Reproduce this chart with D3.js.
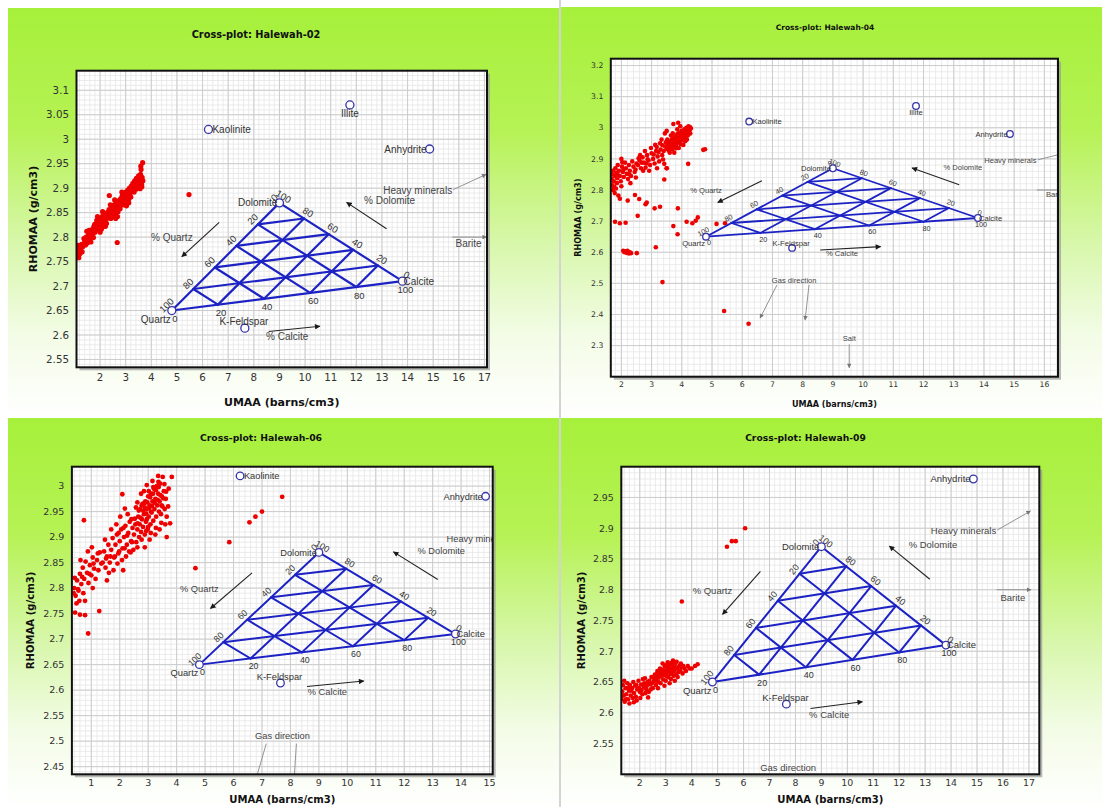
<!DOCTYPE html>
<html>
<head>
<meta charset="utf-8">
<style>
  body { margin: 0; background: #fff; }
  svg { display: block; }
</style>
<title>Cross-plots Halewah</title>
</head>
<body>
<script src="https://cdn.jsdelivr.net/npm/d3@7"></script>
<script>

// ---------- DATA ----------
var wells = ["Halewah-02", "Halewah-04", "Halewah-06", "Halewah-09"];

// ternary end members (Quartz, Calcite, Dolomite)
var triNames = ["Quartz", "Calcite", "Dolomite"];
var triUmaa = [4.8, 13.8, 9.0];
var triRhomaa = [2.65, 2.71, 2.87];
var meshPct = [0, 20, 40, 60, 80, 100];

// other minerals
var mineralNames = ["Kaolinite", "Illite", "Anhydrite", "K-Feldspar"];
var mineralUmaa = [6.23, 11.75, 14.86, 7.65];
var mineralRhomaa = [3.02, 3.07, 2.98, 2.614];

// direction arrows [x1, y1, x2, y2]
var arrowText = ["% Quartz", "% Dolomite", "% Calcite"];
var arrowTextAt = [[4.8, 2.799], [13.3, 2.874], [9.3, 2.597]];
var arrowLines = [[6.65, 2.830, 5.19, 2.760], [13.18, 2.817, 11.62, 2.871], [8.58, 2.607, 10.58, 2.618]];

// pointers
var pointerText = ["Heavy minerals", "Barite", "Gas direction", "Salt"];
var pointerTextAt = [[15.74, 2.896], [16.38, 2.787], [7.72, 2.510], [9.54, 2.323]];
var pointerLines = [[15.78, 2.897, 17.06, 2.928], [15.75, 2.800, 17.08, 2.800],
                    [7.15, 2.495, 6.59, 2.388], [8.21, 2.495, 8.08, 2.382], [9.54, 2.304, 9.54, 2.229]];

// tick labels
var xTicks02 = [2,3,4,5,6,7,8,9,10,11,12,13,14,15,16,17];
var yTicks02 = [2.55,2.6,2.65,2.7,2.75,2.8,2.85,2.9,2.95,3,3.05,3.1];
var xTicks04 = [2,3,4,5,6,7,8,9,10,11,12,13,14,15,16];
var yTicks04 = [2.3,2.4,2.5,2.6,2.7,2.8,2.9,3,3.1,3.2];
var xTicks06 = [1,2,3,4,5,6,7,8,9,10,11,12,13,14,15];
var yTicks06 = [2.45,2.5,2.55,2.6,2.65,2.7,2.75,2.8,2.85,2.9,2.95,3];
var xTicks09 = [2,3,4,5,6,7,8,9,10,11,12,13,14,15,16,17];
var yTicks09 = [2.55,2.6,2.65,2.7,2.75,2.8,2.85,2.9,2.95];

// log samples [UMAA, RHOMAA]
var pts02 = [
  [1.10,2.768],[1.12,2.775],[1.15,2.762],[1.18,2.771],[1.20,2.780],[1.14,2.783],[1.22,2.766],[1.25,2.776],
  [1.28,2.785],[1.17,2.758],[1.30,2.770],[1.11,2.779],
  [1.40,2.792],[1.45,2.800],[1.50,2.788],[1.55,2.805],[1.58,2.796],[1.62,2.812],[1.66,2.800],[1.70,2.816],
  [1.72,2.806],[1.76,2.822],[1.80,2.810],[1.48,2.812],[1.64,2.790],
  [1.84,2.826],[1.88,2.815],[1.92,2.832],[1.95,2.820],[1.98,2.838],[2.02,2.826],[2.05,2.816],[2.08,2.842],
  [2.12,2.830],[2.15,2.822],[2.18,2.846],[2.22,2.835],[2.25,2.828],[2.28,2.850],[1.90,2.842],[2.00,2.810],[2.10,2.852],
  [2.32,2.840],[2.35,2.856],[2.38,2.846],[2.42,2.838],[2.45,2.862],[2.48,2.850],[2.52,2.843],[2.55,2.866],
  [2.58,2.855],[2.60,2.848],[2.63,2.870],[2.66,2.860],[2.70,2.852],[2.72,2.874],[2.75,2.864],[2.78,2.858],
  [2.40,2.866],[2.57,2.876],[2.68,2.842],
  [2.80,2.878],[2.83,2.868],[2.86,2.884],[2.88,2.874],[2.90,2.866],[2.92,2.888],[2.95,2.878],[2.98,2.870],
  [3.00,2.892],[3.02,2.882],[3.05,2.874],[3.08,2.896],[3.10,2.886],[3.12,2.878],[3.15,2.900],[3.18,2.890],
  [3.20,2.882],[2.85,2.892],[3.03,2.864],
  [3.22,2.904],[3.25,2.894],[3.28,2.910],[3.30,2.900],[3.33,2.892],[3.35,2.915],[3.38,2.905],[3.40,2.898],
  [3.42,2.920],[3.45,2.910],[3.48,2.902],[3.50,2.925],[3.52,2.914],[3.55,2.906],[3.57,2.918],[3.60,2.912],
  [3.62,2.908],[3.58,2.928],[3.60,2.938],[3.66,2.952],[3.63,2.903],
  [1.33,2.781],[1.37,2.797],[1.43,2.784],[1.52,2.797],[1.57,2.814],[1.61,2.801],[1.68,2.809],[1.74,2.799],
  [1.79,2.826],[1.83,2.817],[1.87,2.834],[1.93,2.824],[1.97,2.829],[2.03,2.837],[2.07,2.829],[2.13,2.840],
  [2.17,2.835],[2.23,2.844],[2.27,2.839],[2.33,2.849],[2.37,2.853],[2.43,2.849],[2.47,2.859],[2.53,2.856],
  [2.57,2.862],[2.62,2.859],[2.67,2.867],[2.73,2.866],[2.77,2.871],[2.82,2.873],[2.87,2.879],[2.93,2.882],
  [2.97,2.884],[3.04,2.889],[3.07,2.883],[3.13,2.893],[3.17,2.897],[3.23,2.899],[3.27,2.903],[3.32,2.908],
  [3.37,2.911],[3.43,2.905],[3.47,2.917],[3.53,2.921],[3.56,2.899],[3.64,2.922],[3.67,2.915],[3.59,2.945],
  [2.21,2.822],[2.61,2.838],[3.12,2.870],
  [2.36,2.885],[2.67,2.789],[5.47,2.887]
];

var pts04 = [
  [3.40,2.925],[3.45,2.940],[3.50,2.932],[3.55,2.950],[3.58,2.938],[3.62,2.958],[3.65,2.945],[3.68,2.930],
  [3.70,2.965],[3.72,2.950],[3.75,2.940],[3.78,2.972],[3.80,2.958],[3.82,2.945],[3.85,2.980],[3.88,2.965],
  [3.90,2.952],[3.92,2.985],[3.95,2.972],[3.98,2.960],[4.00,2.990],[4.02,2.978],[4.05,2.965],[4.08,2.995],
  [4.10,2.982],[4.12,2.970],[4.15,3.000],[4.18,2.988],[4.20,2.975],[4.22,3.005],[4.25,2.992],[4.28,2.982],
  [4.30,2.998],[3.60,2.920],[3.75,2.920],[3.90,2.935],[4.05,2.945],[3.52,2.962],[3.70,2.982],[3.85,2.995],
  [3.95,3.005],[3.72,3.012],[3.88,3.016],[3.64,2.975],[3.44,2.982],[3.50,2.990],
  [3.47,2.953],[3.53,2.944],[3.57,2.927],[3.63,2.936],[3.67,2.962],[3.73,2.968],[3.77,2.948],[3.83,2.961],
  [3.87,2.977],[3.93,2.968],[3.97,2.982],[4.03,2.986],[4.07,2.976],[4.13,2.991],[4.17,2.962],[4.23,2.985],
  [4.27,3.002],[3.81,2.934],[3.97,2.947],[4.11,2.957],[3.36,2.944],[3.23,2.922],[3.07,2.914],[2.87,2.899],
  [2.67,2.888],[2.47,2.866],[2.27,2.850],[2.07,2.866],[1.87,2.851],[3.33,2.962],[3.17,2.938],[2.83,2.885],
  [2.57,2.902],[2.03,2.889],
  [2.55,2.880],[2.60,2.895],[2.65,2.870],[2.70,2.905],[2.75,2.888],[2.80,2.872],[2.85,2.912],[2.90,2.895],
  [2.95,2.880],[3.00,2.918],[3.05,2.900],[3.10,2.885],[3.15,2.925],[3.20,2.908],[3.25,2.892],[3.30,2.930],
  [3.35,2.912],[3.38,2.898],[2.62,2.912],[2.78,2.925],[2.98,2.935],[3.12,2.945],[3.28,2.950],[2.72,2.862],
  [2.92,2.862],[3.18,2.870],[3.42,2.884],[3.50,2.870],
  [1.68,2.835],[1.70,2.850],[1.72,2.862],[1.75,2.828],[1.78,2.845],[1.80,2.870],[1.83,2.855],[1.86,2.838],
  [1.88,2.880],[1.92,2.862],[1.95,2.845],[1.98,2.828],[2.02,2.875],[2.05,2.858],[2.08,2.842],[2.12,2.888],
  [2.15,2.870],[2.18,2.852],[2.22,2.835],[2.25,2.880],[2.28,2.862],[2.32,2.845],[2.36,2.892],[2.40,2.875],
  [2.44,2.858],[2.48,2.840],[2.50,2.885],[1.70,2.815],[1.76,2.810],[2.00,2.900],[2.30,2.822],[1.85,2.822],
  [1.72,2.800],[1.78,2.790],[1.82,2.805],[1.90,2.782],[1.95,2.772],[2.00,2.812],[2.21,2.766],[2.45,2.784],
  [2.59,2.771],[2.80,2.754],[2.84,2.760],[3.10,2.741],[3.28,2.746],[2.54,2.717],[1.79,2.698],[1.95,2.693],
  [2.14,2.695],[3.72,2.684],[3.86,2.658],[4.16,2.698],[4.35,2.693],[4.53,2.712],[4.46,2.701],[5.15,2.691],
  [5.43,2.693],[3.87,2.741],
  [2.06,2.605],[2.10,2.600],[2.14,2.603],[2.18,2.598],[2.22,2.601],[2.25,2.596],[2.28,2.600],[2.32,2.597],
  [2.20,2.605],[2.51,2.597],[3.14,2.616],[3.36,2.504],[5.40,2.411],[6.21,2.370],
  [4.21,2.884],[4.71,2.929],[4.77,2.931],[3.42,2.834],[3.50,2.870]
];

var pts06 = [
  [2.50,2.905],[2.55,2.925],[2.58,2.890],[2.62,2.915],[2.65,2.940],[2.68,2.900],[2.70,2.925],[2.72,2.955],
  [2.75,2.910],[2.78,2.935],[2.80,2.965],[2.82,2.920],[2.85,2.945],[2.88,2.905],[2.90,2.970],[2.92,2.930],
  [2.95,2.955],[2.98,2.915],[3.00,2.980],[3.02,2.940],[3.05,2.962],[3.08,2.925],[3.10,2.985],[3.12,2.948],
  [3.15,2.970],[3.18,2.932],[3.20,2.995],[3.22,2.955],[3.25,2.975],[3.28,2.940],[3.30,3.000],[3.32,2.962],
  [3.35,2.985],[3.38,2.950],[3.40,2.970],[3.42,3.005],[3.45,2.945],[3.48,2.980],[3.50,2.960],[3.55,2.990],
  [3.58,2.955],[3.62,2.975],[3.65,2.940],[3.51,3.018],[3.83,3.018],[3.77,2.927],[3.65,2.900],[3.40,2.915],
  [3.25,2.905],[3.05,2.895],[2.88,2.880],[2.62,2.968],[2.75,2.985],[2.95,3.002],[3.15,3.010],[3.35,3.020],
  [2.18,2.956],[2.09,2.984],[3.60,2.925],[3.70,2.960],[3.00,2.920],[2.85,2.990],[3.10,2.950],[2.95,2.935],
  [2.53,2.936],[2.57,2.958],[2.63,2.927],[2.67,2.952],[2.73,2.938],[2.77,2.962],[2.83,2.951],[2.87,2.967],
  [2.93,2.946],[2.97,2.968],[3.03,2.957],[3.07,2.978],[3.13,2.961],[3.17,2.985],[3.23,2.967],[3.27,2.992],
  [3.33,2.973],[3.37,2.998],[3.43,2.982],[3.47,2.962],[3.53,2.976],[3.57,3.004],[3.63,2.989],[3.46,2.928],
  [3.27,2.918],[3.09,2.908],[2.93,2.912],[2.77,2.895],[2.62,2.880],[2.43,2.890],[2.33,2.872],[2.17,2.878],
  [1.98,2.872],[1.83,2.862],[1.67,2.862],[1.52,2.858],[1.23,2.868],[1.08,2.848],[0.93,2.828],[0.68,2.822],
  [0.53,2.798],[2.26,2.903],[2.41,2.935],[2.13,2.918],[1.96,2.908],[3.72,2.995],[3.36,3.008],[3.18,2.998],
  [3.02,2.990],[2.88,2.958],
  [1.40,2.850],[1.45,2.872],[1.50,2.840],[1.55,2.862],[1.60,2.885],[1.65,2.850],[1.70,2.875],[1.75,2.898],
  [1.80,2.860],[1.85,2.885],[1.90,2.905],[1.95,2.868],[2.00,2.892],[2.05,2.915],[2.10,2.878],[2.15,2.900],
  [2.20,2.922],[2.25,2.885],[2.30,2.908],[2.35,2.930],[2.40,2.892],[2.45,2.918],[1.48,2.895],[1.62,2.830],
  [1.78,2.835],[1.92,2.848],[2.08,2.855],[2.22,2.862],[2.38,2.870],[1.88,2.925],[2.02,2.940],[2.28,2.945],
  [1.70,2.915],[2.48,2.875],[2.12,2.835],[1.55,2.815],
  [0.40,2.800],[0.45,2.785],[0.50,2.815],[0.55,2.795],[0.60,2.828],[0.65,2.808],[0.70,2.840],[0.75,2.818],
  [0.80,2.852],[0.85,2.830],[0.90,2.810],[0.95,2.845],[1.00,2.825],[1.05,2.860],[1.10,2.838],[1.15,2.818],
  [1.20,2.855],[1.25,2.835],[1.30,2.870],[1.35,2.848],[0.42,2.820],[0.58,2.775],[0.72,2.790],[0.88,2.872],
  [1.02,2.880],[0.62,2.855],[0.48,2.770],[0.38,2.790],[0.78,2.775],
  [0.74,2.933],[0.89,2.711],[1.28,2.755],[0.78,2.747],[0.43,2.752],[0.60,2.748],[1.05,2.800],
  [7.71,2.979],[7.00,2.950],[6.77,2.940],[6.56,2.929],[5.85,2.890],[4.66,2.839]
];

var pts09 = [
  [1.30,2.622],[1.32,2.635],[1.35,2.645],[1.38,2.628],[1.42,2.618],[1.45,2.640],[1.48,2.630],[1.52,2.648],
  [1.55,2.622],[1.58,2.636],[1.62,2.645],[1.65,2.628],[1.70,2.640],[1.75,2.650],[1.78,2.632],[1.82,2.644],
  [1.85,2.626],[1.90,2.638],[1.95,2.652],[2.00,2.634],[2.05,2.646],[2.10,2.630],[2.15,2.642],[2.20,2.656],
  [2.25,2.638],[2.30,2.650],[2.35,2.634],[2.40,2.646],[2.45,2.658],[2.50,2.640],[1.40,2.652],[1.60,2.615],
  [1.88,2.620],[2.12,2.655],[2.32,2.625],
  [1.34,2.628],[1.47,2.622],[1.57,2.641],[1.67,2.636],[1.73,2.624],[1.87,2.645],[1.97,2.640],[2.07,2.637],
  [2.17,2.648],[2.27,2.644],[2.37,2.652],[2.47,2.648],[2.57,2.657],[2.63,2.652],[2.67,2.664],[2.73,2.657],
  [2.77,2.667],[2.84,2.666],[2.91,2.661],[2.98,2.668],[3.04,2.659],[3.11,2.671],[3.18,2.663],[3.24,2.672],
  [3.31,2.667],[3.38,2.674],[3.46,2.658],[3.53,2.668],[3.58,2.680],[3.68,2.676],[2.42,2.638],[2.22,2.632],
  [2.02,2.624],[1.77,2.617],[3.21,2.681],[3.42,2.683],[3.01,2.677],
  [2.55,2.652],[2.58,2.662],[2.62,2.645],[2.65,2.658],[2.68,2.668],[2.72,2.650],[2.75,2.662],[2.78,2.672],
  [2.80,2.648],[2.83,2.660],[2.86,2.670],[2.90,2.654],[2.93,2.665],[2.96,2.675],[3.00,2.652],[3.03,2.664],
  [3.06,2.674],[3.10,2.658],[3.13,2.668],[3.16,2.678],[3.20,2.655],[3.23,2.666],[3.26,2.676],[3.30,2.660],
  [3.33,2.670],[3.36,2.680],[3.40,2.662],[3.44,2.672],[3.48,2.666],[3.52,2.676],[3.56,2.668],[3.60,2.674],
  [3.65,2.664],[2.70,2.640],[2.95,2.644],[3.15,2.648],[3.35,2.652],[2.88,2.680],[3.08,2.682],[3.28,2.685],
  [3.72,2.672],[3.78,2.668],[3.85,2.676],[3.92,2.672],[4.00,2.672],[4.13,2.676],[4.23,2.679],
  [3.62,2.781],[5.36,2.870],[5.55,2.879],[5.70,2.879],[6.06,2.900]
];

// ---------- LAYOUT ----------
var panels = [
  {pts: pts02, xt: xTicks02, yt: yTicks02, xDom: [1.08, 17.1], yDom: [2.534, 3.14],
   bg: [8, 8, 551, 409], plot: [76.5, 70.7, 487, 367.3], title: [256, 35], xTitleY: 402, yTitleX: 33,
   xLab: 10, fTick: 10.3, fTitle: 9.8, fAxis: 11, fLab: 10, lw: 2.2, r: 2.6, mr: 4},
  {pts: pts04, xt: xTicks04, yt: yTicks04, xDom: [1.65, 16.45], yDom: [2.2, 3.222],
   bg: [561, 7, 541, 410], plot: [610.8, 58.7, 1058, 376.7], title: [825, 27], xTitleY: 404, yTitleX: 578,
   xLab: 8, fTick: 7.7, fTitle: 7.5, fAxis: 8.1, fLab: 7.6, lw: 1.8, r: 2.3, mr: 3.3},
  {pts: pts06, xt: xTicks06, yt: yTicks06, xDom: [0.318, 15.11], yDom: [2.435, 3.038],
   bg: [8, 418, 551, 389], plot: [71.9, 466.7, 492.7, 774.3], title: [261, 438], xTitleY: 799, yTitleX: 30,
   xLab: 8.5, fTick: 9.5, fTitle: 9.3, fAxis: 10.1, fLab: 9.3, lw: 2, r: 2.4, mr: 3.8},
  {pts: pts09, xt: xTicks09, yt: yTicks09, xDom: [1.287, 17.4], yDom: [2.5, 3.0],
   bg: [561, 418, 541, 389], plot: [621.3, 466.7, 1039.3, 774.3], title: [805.5, 438], xTitleY: 799, yTitleX: 581,
   xLab: 8.5, fTick: 9.4, fTitle: 9.2, fAxis: 10.1, fLab: 9.5, lw: 2, r: 2.3, mr: 3.8}
];

var triBlue = "#1c22c4", ringBlue = "#3434a8";
var labelFont = "'Liberation Sans', Arial, sans-serif";
var tickFont = "'DejaVu Sans', Verdana, sans-serif";

var svg = d3.select("body").append("svg").attr("width", 1102).attr("height", 807);
var defs = svg.append("defs");

var grad = defs.append("linearGradient").attr("id", "bgGrad")
  .attr("x1", 0).attr("y1", 0).attr("x2", 0).attr("y2", 1);
[[0, "#a6f03a"], [0.3, "#b6f255"], [0.58, "#d8f7ac"], [0.8, "#f3fce6"], [1, "#ffffff"]].forEach(function(s) {
  grad.append("stop").attr("offset", s[0]).attr("stop-color", s[1]);
});

function marker(id, color) {
  defs.append("marker").attr("id", id).attr("viewBox", "0 0 10 10")
    .attr("refX", 9).attr("refY", 5).attr("markerWidth", 6).attr("markerHeight", 5)
    .attr("orient", "auto")
    .append("path").attr("d", "M0,0L10,5L0,10z").attr("fill", color);
}
marker("arrBlack", "#1a1a1a");
marker("arrGrey", "#777");

// ternary point: a = quartz, b = calcite, c = dolomite fractions
function tern(a, b, c) {
  return [a * triUmaa[0] + b * triUmaa[1] + c * triUmaa[2],
          a * triRhomaa[0] + b * triRhomaa[1] + c * triRhomaa[2]];
}

panels.forEach(function(p, i) {
  var g = svg.append("g");
  var L = p.plot[0], T = p.plot[1], R = p.plot[2], B = p.plot[3];

  g.append("rect").attr("x", p.bg[0]).attr("y", p.bg[1]).attr("width", p.bg[2]).attr("height", p.bg[3])
    .attr("fill", "url(#bgGrad)");

  var x = d3.scaleLinear().domain(p.xDom).range([L, R]);
  var y = d3.scaleLinear().domain(p.yDom).range([B, T]);

  // shadow + plot area
  g.append("rect").attr("x", L + 3).attr("y", T + 3).attr("width", R - L).attr("height", B - T)
    .attr("fill", "#9a9a9a").attr("opacity", 0.7);
  g.append("rect").attr("x", L).attr("y", T).attr("width", R - L).attr("height", B - T).attr("fill", "#fff");

  defs.append("clipPath").attr("id", "clip" + i).append("rect")
    .attr("x", L).attr("y", T).attr("width", R - L).attr("height", B - T);
  var plot = g.append("g").attr("clip-path", "url(#clip" + i + ")");

  // grid
  var xs = (p.xt[1] - p.xt[0]) / 5, ys = (p.yt[1] - p.yt[0]) / 5;
  var xMinor = d3.range(Math.ceil(p.xDom[0] / xs), Math.floor(p.xDom[1] / xs) + 1).map(function(k) { return k * xs; });
  var yMinor = d3.range(Math.ceil(p.yDom[0] / ys), Math.floor(p.yDom[1] / ys) + 1).map(function(k) { return k * ys; });
  var xMajor = d3.range(Math.ceil(p.xDom[0]), Math.floor(p.xDom[1]) + 1);
  var yMajor = yMinor.filter(function(v) { return Math.abs(Math.round(v / (ys * 5)) * ys * 5 - v) < 1e-6; });

  plot.selectAll(".gxm").data(xMinor).enter().append("line")
    .attr("x1", function(d) { return x(d); }).attr("x2", function(d) { return x(d); })
    .attr("y1", T).attr("y2", B).attr("stroke", "#e6e6e6").attr("stroke-width", 0.8);
  plot.selectAll(".gym").data(yMinor).enter().append("line")
    .attr("y1", function(d) { return y(d); }).attr("y2", function(d) { return y(d); })
    .attr("x1", L).attr("x2", R).attr("stroke", "#e6e6e6").attr("stroke-width", 0.8);
  plot.selectAll(".gxM").data(xMajor).enter().append("line")
    .attr("x1", function(d) { return x(d); }).attr("x2", function(d) { return x(d); })
    .attr("y1", T).attr("y2", B).attr("stroke", "#cccccc").attr("stroke-width", 1);
  plot.selectAll(".gyM").data(yMajor).enter().append("line")
    .attr("y1", function(d) { return y(d); }).attr("y2", function(d) { return y(d); })
    .attr("x1", L).attr("x2", R).attr("stroke", "#cccccc").attr("stroke-width", 1);

  // samples
  plot.selectAll(".pt").data(p.pts).enter().append("circle")
    .attr("cx", function(d) { return x(d[0]); }).attr("cy", function(d) { return y(d[1]); })
    .attr("r", p.r).attr("fill", "#ee0000");

  // ternary mesh
  var segs = [];
  meshPct.slice(1, 5).forEach(function(v) {
    var f = v / 100;
    segs.push([tern(f, 0, 1 - f), tern(f, 1 - f, 0)]);
    segs.push([tern(1 - f, f, 0), tern(0, f, 1 - f)]);
    segs.push([tern(1 - f, 0, f), tern(0, 1 - f, f)]);
  });
  segs.push([tern(1, 0, 0), tern(0, 1, 0)], [tern(0, 1, 0), tern(0, 0, 1)], [tern(0, 0, 1), tern(1, 0, 0)]);
  plot.selectAll(".mesh").data(segs).enter().append("line")
    .attr("x1", function(d) { return x(d[0][0]); }).attr("y1", function(d) { return y(d[0][1]); })
    .attr("x2", function(d) { return x(d[1][0]); }).attr("y2", function(d) { return y(d[1][1]); })
    .attr("stroke", triBlue).attr("stroke-width", p.lw).attr("stroke-linecap", "round");

  // mesh labels
  function px(pt) { return [x(pt[0]), y(pt[1])]; }
  var Q = px(tern(1, 0, 0)), C = px(tern(0, 1, 0)), D = px(tern(0, 0, 1));
  function edgeInfo(A, Bp) {
    var dx = Bp[0] - A[0], dy = Bp[1] - A[1], len = Math.hypot(dx, dy);
    return {ang: Math.atan2(dy, dx) * 180 / Math.PI, nx: dy / len, ny: -dx / len};
  }
  var eL = edgeInfo(Q, D), eR = edgeInfo(D, C);
  var off = p.fLab * 0.75;
  var labs = [];
  meshPct.forEach(function(v) {
    var f = v / 100;
    var a = px(tern(f, 0, 1 - f));
    labs.push({t: v, x: a[0] + eL.nx * off, y: a[1] + eL.ny * off, rot: eL.ang});
    var b = px(tern(0, 1 - f, f));
    labs.push({t: v, x: b[0] + eR.nx * off, y: b[1] + eR.ny * off, rot: eR.ang});
    var c = px(tern(1 - f, f, 0));
    labs.push({t: v, x: c[0] + 3, y: c[1] + off * 1.1, rot: 0});
  });
  plot.selectAll(".ml").data(labs).enter().append("text")
    .attr("transform", function(d) { return "translate(" + d.x + "," + d.y + ") rotate(" + d.rot + ")"; })
    .attr("text-anchor", "middle").attr("dy", "0.35em")
    .style("font-family", labelFont).style("font-size", (p.fLab * 0.95) + "px").style("fill", "#333")
    .text(function(d) { return d.t; });

  // end-member rings and names
  var mins = [];
  triNames.forEach(function(n, k) { mins.push({n: n, u: triUmaa[k], r: triRhomaa[k]}); });
  mineralNames.forEach(function(n, k) { mins.push({n: n, u: mineralUmaa[k], r: mineralRhomaa[k]}); });
  plot.selectAll(".ring").data(mins).enter().append("circle")
    .attr("cx", function(d) { return x(d.u); }).attr("cy", function(d) { return y(d.r); })
    .attr("r", p.mr).attr("fill", "#fff").attr("stroke", ringBlue).attr("stroke-width", 1.3);

  var place = {
    "Quartz": {a: "end", dx: -1, dy: p.fLab * 1.25},
    "Calcite": {a: "start", dx: 1, dy: p.fLab * 0.35},
    "Dolomite": {a: "end", dx: -2, dy: p.fLab * 0.35},
    "Kaolinite": {a: "start", dx: p.mr, dy: p.fLab * 0.35},
    "Illite": {a: "middle", dx: 0, dy: p.fLab * 1.25},
    "Anhydrite": {a: "end", dx: -p.mr + 1, dy: p.fLab * 0.35},
    "K-Feldspar": {a: "middle", dx: -1, dy: -p.mr + 1}
  };
  plot.selectAll(".mn").data(mins).enter().append("text")
    .attr("x", function(d) { return x(d.u) + place[d.n].dx; })
    .attr("y", function(d) { return y(d.r) + place[d.n].dy; })
    .attr("text-anchor", function(d) { return place[d.n].a; })
    .style("font-family", labelFont).style("font-size", p.fLab + "px").style("fill", "#333")
    .text(function(d) { return d.n; });

  // keep only texts that show at least partly inside the plot
  function visible(t, u, v, anchor) {
    var w = t.length * p.fLab * 0.5, cx = x(u), cy = y(v);
    var x0 = anchor === "end" ? cx - w : cx - w / 2, x1 = anchor === "end" ? cx : cx + w / 2;
    return cy > T + 2 && cy < B - 2 && x1 > L && x0 < R;
  }

  // direction arrows
  plot.selectAll(".arr").data(arrowLines).enter().append("line")
    .attr("x1", function(d) { return x(d[0]); }).attr("y1", function(d) { return y(d[1]); })
    .attr("x2", function(d) { return x(d[2]); }).attr("y2", function(d) { return y(d[3]); })
    .attr("stroke", "#222").attr("stroke-width", 1.1).attr("marker-end", "url(#arrBlack)");
  var arrLab = arrowText.map(function(t, k) { return {t: t, u: arrowTextAt[k][0], v: arrowTextAt[k][1], a: "middle"}; })
    .filter(function(d) { return visible(d.t, d.u, d.v, d.a); });
  plot.selectAll(".arrT").data(arrLab).enter().append("text")
    .attr("x", function(d) { return x(d.u); }).attr("y", function(d) { return y(d.v); })
    .attr("dy", "0.35em").attr("text-anchor", "middle")
    .style("font-family", labelFont).style("font-size", p.fLab + "px").style("fill", "#444")
    .text(function(d) { return d.t; });

  // pointers
  plot.selectAll(".ptr").data(pointerLines).enter().append("line")
    .attr("x1", function(d) { return x(d[0]); }).attr("y1", function(d) { return y(d[1]); })
    .attr("x2", function(d) { return x(d[2]); }).attr("y2", function(d) { return y(d[3]); })
    .attr("stroke", "#888").attr("stroke-width", 0.9).attr("marker-end", "url(#arrGrey)");
  var ptrLab = pointerText.map(function(t, k) {
      return {t: t, u: pointerTextAt[k][0], v: pointerTextAt[k][1], a: k === 0 ? "end" : "middle"};
    })
    .filter(function(d) { return visible(d.t, d.u, d.v, d.a); });
  plot.selectAll(".ptrT").data(ptrLab).enter().append("text")
    .attr("x", function(d) { return x(d.u); }).attr("y", function(d) { return y(d.v); })
    .attr("dy", "0.35em").attr("text-anchor", function(d) { return d.a; })
    .style("font-family", labelFont).style("font-size", p.fLab + "px").style("fill", "#444")
    .text(function(d) { return d.t; });

  // frame
  g.append("rect").attr("x", L).attr("y", T).attr("width", R - L).attr("height", B - T)
    .attr("fill", "none").attr("stroke", "#111").attr("stroke-width", 2);

  // tick labels
  g.selectAll(".xt").data(p.xt).enter().append("text")
    .attr("x", function(d) { return x(d); }).attr("y", B + p.xLab).attr("dy", "0.35em")
    .attr("text-anchor", "middle")
    .style("font-family", tickFont).style("font-size", p.fTick + "px").style("fill", "#333")
    .text(function(d) { return String(d); });
  g.selectAll(".yt").data(p.yt).enter().append("text")
    .attr("x", L - 7.5).attr("y", function(d) { return y(d); }).attr("dy", "0.35em")
    .attr("text-anchor", "end")
    .style("font-family", tickFont).style("font-size", p.fTick + "px").style("fill", "#333")
    .text(function(d) { return String(d); });

  // titles
  g.append("text").attr("x", p.title[0]).attr("y", p.title[1]).attr("dy", "0.35em")
    .attr("text-anchor", "middle")
    .style("font-family", tickFont).style("font-weight", "bold").style("font-size", p.fTitle + "px")
    .style("fill", "#111").text("Cross-plot: " + wells[i]);
  g.append("text").attr("x", (L + R) / 2).attr("y", p.xTitleY).attr("dy", "0.35em")
    .attr("text-anchor", "middle")
    .style("font-family", tickFont).style("font-weight", "bold").style("font-size", p.fAxis + "px")
    .style("fill", "#111").text("UMAA (barns/cm3)");
  g.append("text")
    .attr("transform", "translate(" + p.yTitleX + "," + ((T + B) / 2) + ") rotate(-90)")
    .attr("dy", "0.35em").attr("text-anchor", "middle")
    .style("font-family", tickFont).style("font-weight", "bold").style("font-size", p.fAxis + "px")
    .style("fill", "#111").text("RHOMAA (g/cm3)");
});

// panel separator
svg.append("line").attr("x1", 560).attr("x2", 560).attr("y1", 0).attr("y2", 807)
  .attr("stroke", "#a8a8a8").attr("stroke-width", 1);

</script>
</body>
</html>
